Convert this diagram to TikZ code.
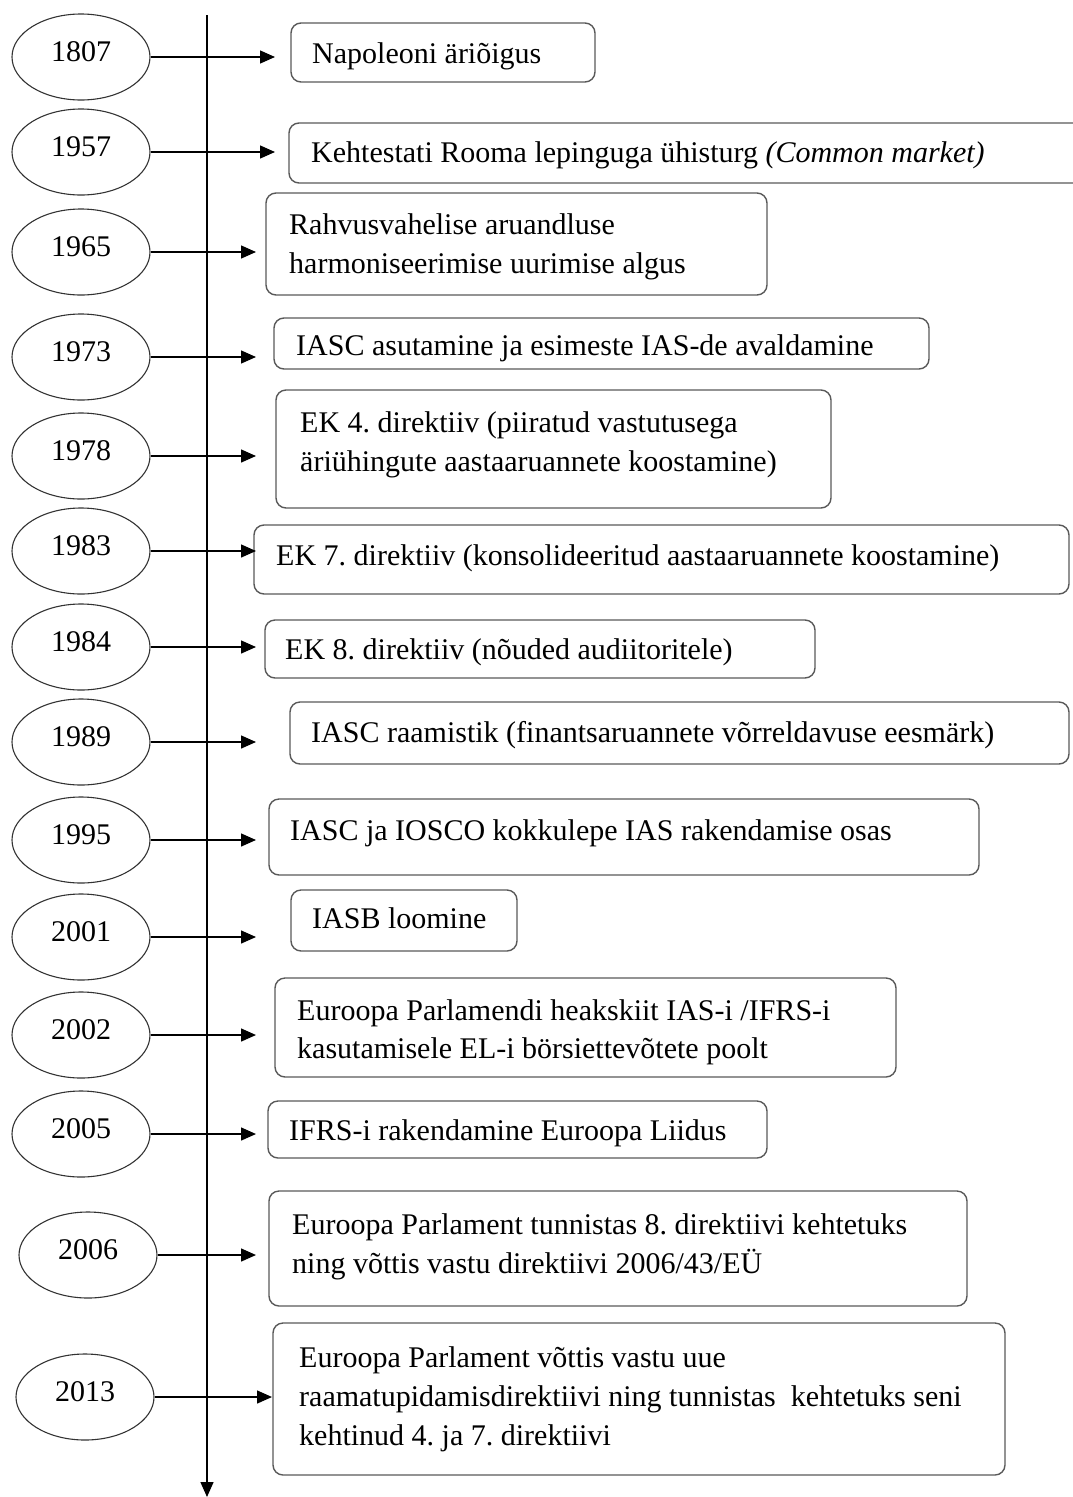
\documentclass[tikz,border=0pt]{standalone}
\usepackage{fontspec}
\setmainfont{Liberation Serif}
\usetikzlibrary{shapes.geometric,arrows.meta}
\frenchspacing
\begin{document}
\begin{tikzpicture}[x=1pt,y=-1pt,
  yearst/.style={draw=black!80,line width=1.1pt,ellipse,minimum width=138pt,minimum height=86pt,inner sep=0pt,font=\fontsize{30}{32}\selectfont,text depth=10pt},
  boxst/.style={draw=black!65,line width=1.4pt,rounded corners=10pt,inner sep=0pt},
  txt/.style={anchor=base west,inner sep=0pt,font=\fontsize{30}{32}\selectfont},
  arr/.style={line width=1.4pt,-{Triangle[length=15pt,width=13pt]}}]
\useasboundingbox (0,0) rectangle (1072,1497);
% timeline
\coordinate (top) at (207,15);
\coordinate (bot) at (207,1497);
\draw[arr] (top) -- (bot);
% helper macro for boxes
\newcommand\tlbox[5]{\node[boxst,minimum width={#3-#1},minimum height={#4-#2}] (#5) at ({(#1+#3)/2},{(#2+#4)/2}) {};}
% years
\node[yearst] (e1807) at (81,57) {1807};
\node[yearst] (e1957) at (81,152) {1957};
\node[yearst] (e1965) at (81,252) {1965};
\node[yearst] (e1973) at (81,357) {1973};
\node[yearst] (e1978) at (81,456) {1978};
\node[yearst] (e1983) at (81,551) {1983};
\node[yearst] (e1984) at (81,647) {1984};
\node[yearst] (e1989) at (81,742) {1989};
\node[yearst] (e1995) at (81,840) {1995};
\node[yearst] (e2001) at (81,937) {2001};
\node[yearst] (e2002) at (81,1035) {2002};
\node[yearst] (e2005) at (81,1134) {2005};
\node[yearst] (e2006) at (88,1255) {2006};
\node[yearst] (e2013) at (85,1397) {2013};
% boxes
\tlbox{291}{23}{595}{82}{b1807}
\tlbox{289}{123}{1090}{183}{b1957}
\tlbox{266}{193}{767}{295}{b1965}
\tlbox{274}{318}{929}{369}{b1973}
\tlbox{276}{390}{831}{508}{b1978}
\tlbox{254}{525}{1069}{594}{b1983}
\tlbox{265}{620}{815}{678}{b1984}
\tlbox{290}{702}{1069}{764}{b1989}
\tlbox{269}{799}{979}{875}{b1995}
\tlbox{291}{890}{517}{951}{b2001}
\tlbox{275}{978}{896}{1077}{b2002}
\tlbox{268}{1101}{767}{1158}{b2005}
\tlbox{269}{1191}{967}{1306}{b2006}
\tlbox{273}{1323}{1005}{1475}{b2013}
% texts
\node[txt] (t1807) at (312,63) {Napoleoni äriõigus};
\node[txt] (t1957) at (311,162) {Kehtestati Rooma lepinguga ühisturg \textit{(Common market)}};
\node[txt] (t1965a) at (289,234) {Rahvusvahelise aruandluse};
\node[txt] (t1965b) at (289,273) {harmoniseerimise uurimise algus};
\node[txt] (t1973) at (296,355) {IASC asutamine ja esimeste IAS-de avaldamine};
\node[txt] (t1978a) at (300,432) {EK 4. direktiiv (piiratud vastutusega};
\node[txt] (t1978b) at (300,471) {äriühingute aastaaruannete koostamine)};
\node[txt] (t1983) at (276,565) {EK 7. direktiiv (konsolideeritud aastaaruannete koostamine)};
\node[txt] (t1984) at (285,659) {EK 8. direktiiv (nõuded audiitoritele)};
\node[txt] (t1989) at (311,742) {IASC raamistik (finantsaruannete võrreldavuse eesmärk)};
\node[txt] (t1995) at (290,840) {IASC ja IOSCO kokkulepe IAS rakendamise osas};
\node[txt] (t2001) at (312,928) {IASB loomine};
\node[txt] (t2002a) at (297,1020) {Euroopa Parlamendi heakskiit IAS-i /IFRS-i};
\node[txt] (t2002b) at (297,1058) {kasutamisele EL-i börsiettevõtete poolt};
\node[txt] (t2005) at (289,1140) {IFRS-i rakendamine Euroopa Liidus};
\node[txt] (t2006a) at (292,1234) {Euroopa Parlament tunnistas 8. direktiivi kehtetuks};
\node[txt] (t2006b) at (292,1273) {ning võttis vastu direktiivi 2006/43/EÜ};
\node[txt] (t2013a) at (299,1367) {Euroopa Parlament võttis vastu uue};
\node[txt] (t2013b) at (299,1406) {raamatupidamisdirektiivi ning tunnistas\ \ kehtetuks seni};
\node[txt] (t2013c) at (299,1445) {kehtinud 4. ja 7. direktiivi};
% arrow tips
\coordinate (a1807) at (275,57);
\coordinate (a1957) at (275,152);
\coordinate (a1965) at (256,252);
\coordinate (a1973) at (256,357);
\coordinate (a1978) at (256,456);
\coordinate (a1983) at (256,551);
\coordinate (a1984) at (256,647);
\coordinate (a1989) at (256,742);
\coordinate (a1995) at (256,840);
\coordinate (a2001) at (256,937);
\coordinate (a2002) at (256,1035);
\coordinate (a2005) at (256,1134);
\coordinate (a2006) at (256,1255);
\coordinate (a2013) at (272,1397);
\foreach \y in {1807,1957,1965,1973,1978,1983,1984,1989,1995,2001,2002,2005,2006,2013}
  \draw[arr] (e\y.east) -- (a\y);
\end{tikzpicture}
\end{document}
